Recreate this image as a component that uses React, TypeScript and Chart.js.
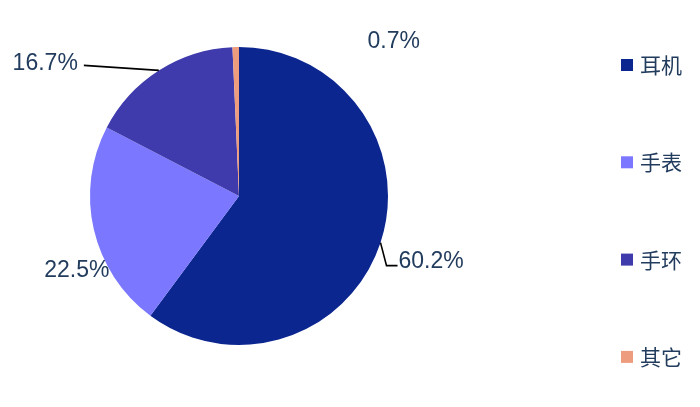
import React, { useEffect, useRef } from "react";
import { Chart, registerables } from "chart.js";

Chart.register(...registerables);

const categories = ["耳机", "手表", "手环", "其它"];
const shares = [60.2, 22.5, 16.7, 0.7];
const valueLabels = ["60.2%", "22.5%", "16.7%", "0.7%"];
const colors = ["#0C2690", "#7B78FF", "#3F3BAC", "#EE9C7E"];

const TEXT = "#223C5E";

// label placement relative to the arc edge anchor: [dx, dy, align, leader type]
const labelOffsets: [number, number, string, string][] = [
  [18, 19, "left", "elbow"],
  [-17, 41, "center", "none"],
  [-81, -7, "right", "straight"],
  [158, -5, "center", "none"],
];

const labelPlugin = {
  id: "pieLabels",
  afterDatasetsDraw(chart: any) {
    const ctx = chart.ctx;
    const meta = chart.getDatasetMeta(0);
    ctx.save();
    ctx.font = '23px "Liberation Sans", Arial, sans-serif';
    ctx.textBaseline = "middle";
    meta.data.forEach((arc: any, i: number) => {
      const { x, y, startAngle, endAngle, outerRadius } = arc.getProps(
        ["x", "y", "startAngle", "endAngle", "outerRadius"],
        true
      );
      const mid = (startAngle + endAngle) / 2;
      const ax = x + Math.cos(mid) * outerRadius;
      const ay = y + Math.sin(mid) * outerRadius;
      const [dx, dy, align, leader] = labelOffsets[i];
      ctx.strokeStyle = "#000";
      ctx.lineWidth = 1.6;
      if (leader === "elbow") {
        ctx.beginPath();
        ctx.moveTo(ax, ay);
        ctx.lineTo(ax + dx - 12, ay + dy + 4);
        ctx.lineTo(ax + dx - 1, ay + dy + 4);
        ctx.stroke();
      } else if (leader === "straight") {
        ctx.beginPath();
        ctx.moveTo(ax, ay);
        ctx.lineTo(ax + dx + 6, ay + dy + 2);
        ctx.stroke();
      }
      ctx.fillStyle = TEXT;
      ctx.textAlign = align as CanvasTextAlign;
      ctx.fillText(valueLabels[i], ax + dx, ay + dy);
    });
    ctx.restore();
  },
};

const legendPlugin = {
  id: "sideLegend",
  afterDraw(chart: any) {
    const ctx = chart.ctx;
    const top = 65;
    const step = 97.3;
    ctx.save();
    ctx.font = '21px "Noto Sans CJK SC", sans-serif';
    ctx.textBaseline = "middle";
    ctx.textAlign = "left";
    categories.forEach((c, i) => {
      const cy = top + i * step;
      ctx.fillStyle = colors[i];
      ctx.fillRect(621, cy - 6, 12, 12);
      ctx.fillStyle = TEXT;
      ctx.fillText(c, 640, cy);
    });
    ctx.restore();
  },
};

export default function App() {
  const ref = useRef<HTMLCanvasElement>(null);
  useEffect(() => {
    document.body.style.margin = "0";
    const chart = new Chart(ref.current!, {
      type: "pie",
      data: {
        labels: categories,
        datasets: [
          {
            data: shares,
            backgroundColor: colors,
            borderWidth: 0,
          },
        ],
      },
      options: {
        animation: false,
        responsive: false,
        layout: { padding: { left: 90, right: 312, top: 47, bottom: 62 } },
        plugins: {
          legend: { display: false },
          tooltip: { enabled: false },
        },
      },
      plugins: [labelPlugin, legendPlugin],
    });
    return () => chart.destroy();
  }, []);
  return (
    <div style={{ width: 700, height: 407, background: "#fff" }}>
      <canvas ref={ref} width={700} height={407} />
    </div>
  );
}
